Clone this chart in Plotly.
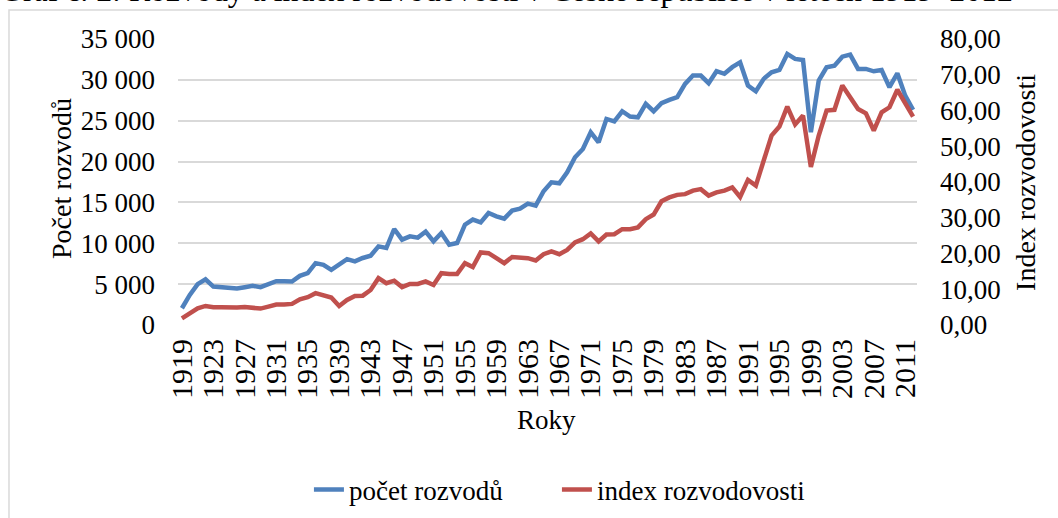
import plotly.graph_objects as go

# Data
years = list(range(1919, 2013))
pocet_rozvodu = [
    2050, 3680, 5000, 5600, 4700, 4630, 4630, 4460, 4630, 4790,
    4630, 5030, 5360, 5360, 5320, 6020, 6350, 7570, 7370, 6750,
    7490, 8060, 7780, 8200, 8470, 9620, 9420, 11750, 10440, 10850,
    10690, 11420, 10230, 11260, 9820, 10030, 12280, 12900, 12560, 13710,
    13300, 13020, 14000, 14250, 14860, 14610, 16370, 17460, 17340, 18690,
    20520, 21540, 23590, 22360, 25220, 24930, 26160, 25510, 25420, 27060,
    26160, 27140, 27550, 27880, 29510, 30530, 30530, 29590, 31060, 30740,
    31550, 32150, 29300, 28610, 30120, 30930, 31210, 33170, 32560, 32430,
    23600, 29910, 31540, 31740, 32840, 33090, 31340, 31340, 31050, 31210,
    29100, 30810, 28070, 26320,
]
index_rozvodovosti = [
    1.87, 3.28, 4.68, 5.33, 4.96, 4.96, 4.87, 4.87, 5.05, 4.96,
    4.59, 5.15, 5.71, 5.71, 5.90, 7.20, 7.77, 8.90, 8.14, 7.67,
    5.33, 7.00, 8.14, 8.20, 9.80, 13.10, 11.70, 12.40, 10.60, 11.50,
    11.50, 12.20, 11.20, 14.50, 14.30, 14.30, 17.30, 16.20, 20.30, 20.10,
    18.70, 17.30, 19.00, 18.70, 18.70, 18.05, 19.80, 20.60, 19.80, 21.00,
    23.10, 24.00, 25.60, 23.40, 25.30, 25.40, 26.80, 26.80, 27.30, 29.60,
    30.90, 34.60, 35.70, 36.40, 36.60, 37.60, 38.00, 36.20, 37.10, 37.60,
    38.50, 35.80, 40.60, 39.00, 46.00, 53.00, 55.50, 61.10, 56.10, 58.60,
    44.20, 53.00, 60.00, 60.20, 67.00, 63.90, 60.40, 59.20, 54.40, 59.50,
    60.90, 65.80, 62.30, 58.30,
]

font_family = "Liberation Serif"

fig = go.Figure()

fig.add_trace(go.Scatter(
    x=years, y=pocet_rozvodu, name='počet rozvodů', mode='lines',
    line=dict(color='#4F81BD', width=4.5)
))
fig.add_trace(go.Scatter(
    x=years, y=index_rozvodovosti, name='index rozvodovosti', mode='lines',
    line=dict(color='#C0504D', width=4.5), yaxis='y2'
))

fig.update_layout(
    width=1058, height=518,
    margin=dict(l=178, r=141, t=39, b=193),
    paper_bgcolor='white', plot_bgcolor='white',
    font=dict(family=font_family, size=27, color='black'),
    separators=', ',
    showlegend=True,
    legend=dict(orientation='h', xref='container', yref='container',
                x=0.292, xanchor='left', y=0.054, yanchor='middle',
                entrywidth=203, entrywidthmode='pixels',
                font=dict(size=27)),
    xaxis=dict(range=[1918.5, 2012.5], tick0=1919, dtick=4, tickangle=-90,
               showgrid=False, zeroline=False, showline=False, automargin=False,
               tickfont=dict(size=30), ticklabelstandoff=7),
    yaxis=dict(range=[0, 35000], dtick=5000, tickformat=',d',
               showgrid=True, gridcolor='#D9D9D9', gridwidth=1.5,
               zeroline=False, showline=False, automargin=False,
               tickfont=dict(size=27), ticklabelstandoff=22),
    yaxis2=dict(range=[0, 80], dtick=10, tickformat='.2f', overlaying='y', side='right',
                showgrid=False, zeroline=False, showline=False, automargin=False,
                tickfont=dict(size=27), ticklabelstandoff=22),
)

# Axis titles
fig.add_annotation(text='Počet rozvodů', xref='paper', yref='paper', x=-0.157, y=0.514,
                   xanchor='center', yanchor='middle',
                   textangle=-90, showarrow=False, font=dict(size=28))
fig.add_annotation(text='Index rozvodovosti', xref='paper', yref='paper', x=1.146, y=0.50,
                   xanchor='center', yanchor='middle',
                   textangle=-90, showarrow=False, font=dict(size=28))
fig.add_annotation(text='Roky', xref='paper', yref='paper', x=0.499, y=-0.332,
                   xanchor='center', yanchor='middle',
                   showarrow=False, font=dict(size=27))

# Title, cut off at the top as in the source
fig.add_annotation(text='Graf č. 2: Rozvody a index rozvodovosti v České republice v letech 1919–2012',
                   xref='paper', yref='paper', x=-0.244, xanchor='left', y=1.1015, yanchor='bottom',
                   showarrow=False, font=dict(size=31.8))

# Chart border
fig.add_shape(type='rect', xref='paper', yref='paper', x0=-0.2287, x1=1.25, y0=-0.75, y1=1.1014,
              line=dict(color='#D9D9D9', width=1.5), layer='below')

fig.write_html("out.html", config={'displayModeBar': False},
               post_script="document.body.style.margin='0';document.body.style.overflow='hidden';")
